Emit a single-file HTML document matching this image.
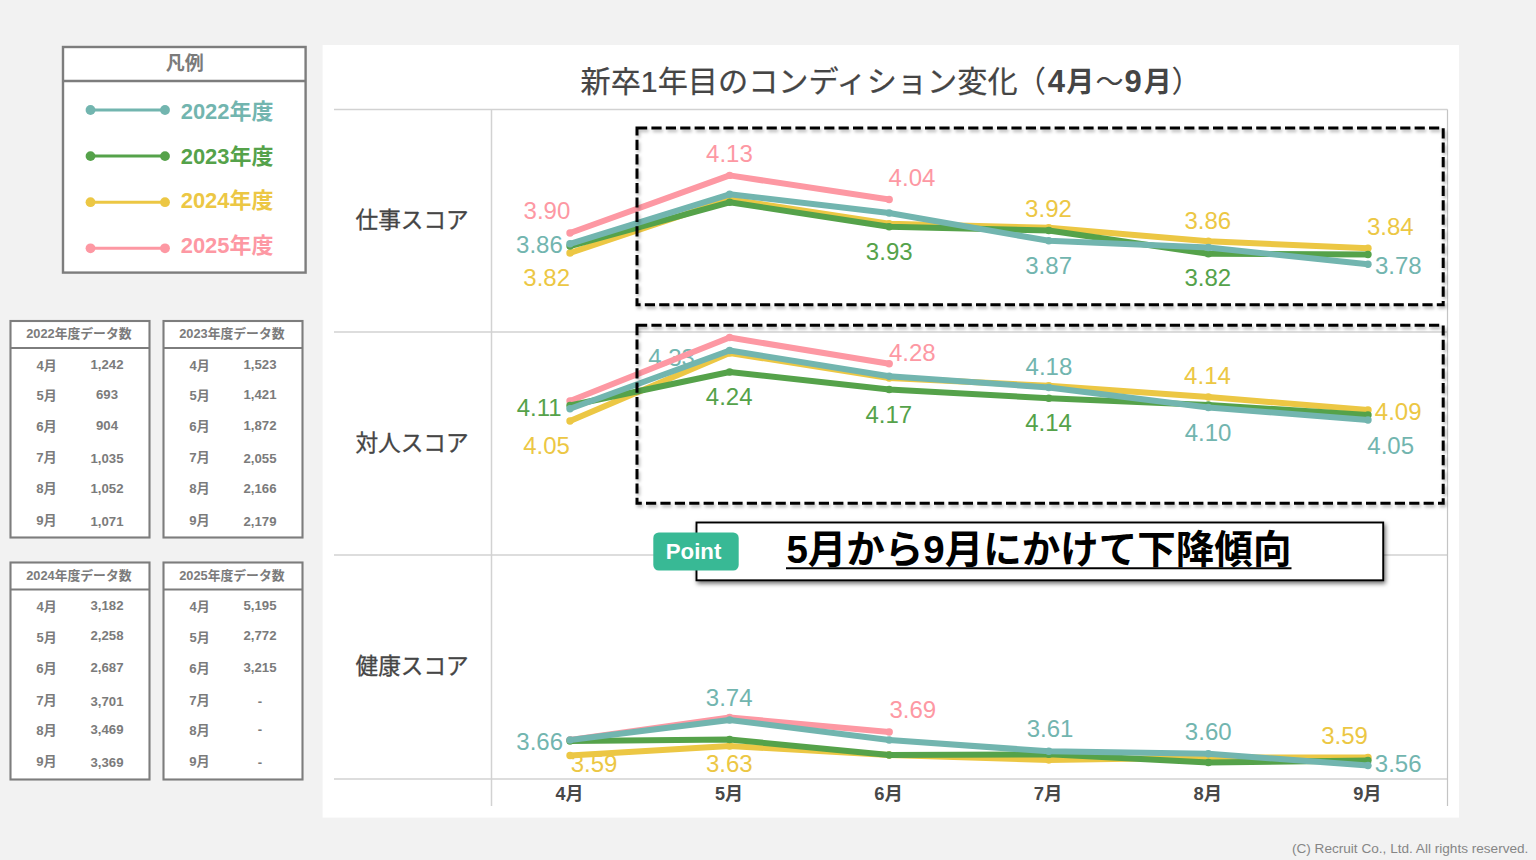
<!DOCTYPE html>
<html lang="ja"><head><meta charset="utf-8"><title>新卒1年目のコンディション変化</title>
<style>
html,body{margin:0;padding:0;background:#f2f2f2}
body{width:1536px;height:860px;position:relative;overflow:hidden;font-family:"Liberation Sans",sans-serif}
svg{position:absolute;left:0;top:0;display:block}
svg text{font-family:"Liberation Sans","Noto Sans CJK JP",sans-serif}
.v{position:absolute;white-space:nowrap;line-height:1;font-family:"Liberation Sans",sans-serif}
.h{position:absolute;white-space:nowrap;line-height:1;color:transparent;font-family:"Liberation Sans",sans-serif;overflow:hidden;width:1px;height:1px;opacity:0}
</style></head>
<body>
<svg width="1536" height="860" viewBox="0 0 1536 860">
<defs>
<filter id="soft" x="-2%" y="-2%" width="104%" height="104%"><feGaussianBlur stdDeviation="0.7"/></filter>
<filter id="dsh" x="-5%" y="-10%" width="110%" height="125%"><feDropShadow dx="1.5" dy="2.5" stdDeviation="1.8" flood-color="#000" flood-opacity="0.28"/></filter>
<filter id="csh" x="-5%" y="-20%" width="110%" height="150%"><feDropShadow dx="1.5" dy="2.5" stdDeviation="2.2" flood-color="#000" flood-opacity="0.55"/></filter>
</defs>
<rect x="63" y="47" width="242.6" height="225.6" fill="#fff" stroke="#7d7d7d" stroke-width="2.4"/>
<line x1="63" y1="81" x2="305.6" y2="81" stroke="#7d7d7d" stroke-width="2.4"/>
<text x="165.86" y="69.63" font-size="19" font-weight="bold" fill="#7b7b7b">凡例</text>
<line x1="90.5" y1="110" x2="165" y2="110" stroke="#72b5af" stroke-width="3"/>
<circle cx="90.5" cy="110" r="4.9" fill="#72b5af"/><circle cx="165" cy="110" r="4.9" fill="#72b5af"/>
<text x="180.73" y="119.34" font-size="21.93" font-weight="bold" fill="#72b5af">2022年度</text>
<line x1="90.5" y1="156.1" x2="165" y2="156.1" stroke="#55a24a" stroke-width="3"/>
<circle cx="90.5" cy="156.1" r="4.9" fill="#55a24a"/><circle cx="165" cy="156.1" r="4.9" fill="#55a24a"/>
<text x="180.73" y="163.74" font-size="21.93" font-weight="bold" fill="#55a24a">2023年度</text>
<line x1="90.5" y1="202.2" x2="165" y2="202.2" stroke="#ecc744" stroke-width="3"/>
<circle cx="90.5" cy="202.2" r="4.9" fill="#ecc744"/><circle cx="165" cy="202.2" r="4.9" fill="#ecc744"/>
<text x="180.73" y="208.44" font-size="21.93" font-weight="bold" fill="#ecc744">2024年度</text>
<line x1="90.5" y1="248.3" x2="165" y2="248.3" stroke="#fd98a3" stroke-width="3"/>
<circle cx="90.5" cy="248.3" r="4.9" fill="#fd98a3"/><circle cx="165" cy="248.3" r="4.9" fill="#fd98a3"/>
<text x="180.73" y="252.84" font-size="21.93" font-weight="bold" fill="#fd98a3">2025年度</text>
<rect x="10.5" y="321" width="139" height="216.5" fill="#fff" stroke="#7d7d7d" stroke-width="2.1"/>
<line x1="10.5" y1="348" x2="149.5" y2="348" stroke="#7d7d7d" stroke-width="2.1"/>
<text x="26.15" y="338.27" font-size="12.82" font-weight="bold" fill="#7b7b7b">2022年度データ数</text>
<text x="36.53" y="369.62" font-size="12.98" font-weight="bold" fill="#7b7b7b">4月</text>
<text x="36.46" y="400.14" font-size="13.02" font-weight="bold" fill="#7b7b7b">5月</text>
<text x="36.14" y="431.22" font-size="13.25" font-weight="bold" fill="#7b7b7b">6月</text>
<text x="36.14" y="462.22" font-size="13.25" font-weight="bold" fill="#7b7b7b">7月</text>
<text x="36.18" y="492.71" font-size="13.22" font-weight="bold" fill="#7b7b7b">8月</text>
<text x="36.27" y="524.68" font-size="13.16" font-weight="bold" fill="#7b7b7b">9月</text>
<rect x="163.5" y="321" width="139" height="216.5" fill="#fff" stroke="#7d7d7d" stroke-width="2.1"/>
<line x1="163.5" y1="348" x2="302.5" y2="348" stroke="#7d7d7d" stroke-width="2.1"/>
<text x="179.15" y="338.27" font-size="12.82" font-weight="bold" fill="#7b7b7b">2023年度データ数</text>
<text x="189.53" y="369.62" font-size="12.98" font-weight="bold" fill="#7b7b7b">4月</text>
<text x="189.46" y="400.14" font-size="13.02" font-weight="bold" fill="#7b7b7b">5月</text>
<text x="189.14" y="431.22" font-size="13.25" font-weight="bold" fill="#7b7b7b">6月</text>
<text x="189.14" y="462.22" font-size="13.25" font-weight="bold" fill="#7b7b7b">7月</text>
<text x="189.18" y="492.71" font-size="13.22" font-weight="bold" fill="#7b7b7b">8月</text>
<text x="189.27" y="524.68" font-size="13.16" font-weight="bold" fill="#7b7b7b">9月</text>
<rect x="10.5" y="562.5" width="139" height="217" fill="#fff" stroke="#7d7d7d" stroke-width="2.1"/>
<line x1="10.5" y1="589.5" x2="149.5" y2="589.5" stroke="#7d7d7d" stroke-width="2.1"/>
<text x="26.15" y="579.77" font-size="12.82" font-weight="bold" fill="#7b7b7b">2024年度データ数</text>
<text x="36.53" y="611.12" font-size="12.98" font-weight="bold" fill="#7b7b7b">4月</text>
<text x="36.46" y="641.64" font-size="13.02" font-weight="bold" fill="#7b7b7b">5月</text>
<text x="36.14" y="672.72" font-size="13.25" font-weight="bold" fill="#7b7b7b">6月</text>
<text x="36.14" y="704.72" font-size="13.25" font-weight="bold" fill="#7b7b7b">7月</text>
<text x="36.18" y="735.21" font-size="13.22" font-weight="bold" fill="#7b7b7b">8月</text>
<text x="36.27" y="766.18" font-size="13.16" font-weight="bold" fill="#7b7b7b">9月</text>
<rect x="163.5" y="562.5" width="139" height="217" fill="#fff" stroke="#7d7d7d" stroke-width="2.1"/>
<line x1="163.5" y1="589.5" x2="302.5" y2="589.5" stroke="#7d7d7d" stroke-width="2.1"/>
<text x="179.15" y="579.77" font-size="12.82" font-weight="bold" fill="#7b7b7b">2025年度データ数</text>
<text x="189.53" y="611.12" font-size="12.98" font-weight="bold" fill="#7b7b7b">4月</text>
<text x="189.46" y="641.64" font-size="13.02" font-weight="bold" fill="#7b7b7b">5月</text>
<text x="189.14" y="672.72" font-size="13.25" font-weight="bold" fill="#7b7b7b">6月</text>
<text x="189.14" y="704.72" font-size="13.25" font-weight="bold" fill="#7b7b7b">7月</text>
<text x="189.18" y="735.21" font-size="13.22" font-weight="bold" fill="#7b7b7b">8月</text>
<text x="189.27" y="766.18" font-size="13.16" font-weight="bold" fill="#7b7b7b">9月</text>
<rect x="322.6" y="45" width="1136.4" height="772.6" fill="#fff" filter="url(#soft)"/>
<line x1="334" y1="109.6" x2="1447.5" y2="109.6" stroke="#d2d2d2" stroke-width="1.5"/>
<line x1="334" y1="332" x2="1447.5" y2="332" stroke="#d2d2d2" stroke-width="1.5"/>
<line x1="334" y1="555" x2="1447.5" y2="555" stroke="#d2d2d2" stroke-width="1.5"/>
<line x1="334" y1="779" x2="1447.5" y2="779" stroke="#d2d2d2" stroke-width="1.5"/>
<line x1="491.5" y1="109.6" x2="491.5" y2="806" stroke="#d2d2d2" stroke-width="1.5"/>
<line x1="1447.5" y1="109.6" x2="1447.5" y2="806" stroke="#c4c4c4" stroke-width="1.2"/>
<text x="580.51" y="91.58" font-size="30" fill="#454545" stroke="#454545" stroke-width="0.24" textLength="437.1" lengthAdjust="spacingAndGlyphs">新卒1年目のコンディション変化</text>
<text x="1016" y="91.58" font-size="30" fill="#454545">（</text>
<text x="1047.7" y="91.58" font-size="31" font-weight="bold" fill="#454545">4</text>
<text x="1066.33" y="91.58" font-size="28" font-weight="bold" fill="#454545">月</text>
<text x="1095.44" y="91.58" font-size="28" fill="#454545">～</text>
<text x="1124.56" y="91.58" font-size="31" font-weight="bold" fill="#454545">9</text>
<text x="1143.63" y="91.58" font-size="28" font-weight="bold" fill="#454545">月</text>
<text x="1171.5" y="91.58" font-size="30" fill="#454545">）</text>
<text x="355.52" y="228.07" font-size="22.64" fill="#454545" stroke="#454545" stroke-width="0.32">仕事スコア</text>
<text x="355.41" y="451.12" font-size="22.66" fill="#454545" stroke="#454545" stroke-width="0.32">対人スコア</text>
<text x="355.62" y="674.05" font-size="22.62" fill="#454545" stroke="#454545" stroke-width="0.32">健康スコア</text>
<text x="555.52" y="800.11" font-size="18.01" font-weight="bold" fill="#484848">4月</text>
<text x="715.03" y="800.14" font-size="18.08" font-weight="bold" fill="#484848">5月</text>
<text x="874.18" y="800.25" font-size="18.39" font-weight="bold" fill="#484848">6月</text>
<text x="1033.78" y="800.25" font-size="18.39" font-weight="bold" fill="#484848">7月</text>
<text x="1193.44" y="800.23" font-size="18.35" font-weight="bold" fill="#484848">8月</text>
<text x="1353.17" y="800.2" font-size="18.26" font-weight="bold" fill="#484848">9月</text>
<text x="523.56" y="218.99" font-size="24" fill="#fd98a3">3.90</text>
<text x="516.05" y="252.58" font-size="24" fill="#72b5af">3.86</text>
<text x="523.31" y="286.08" font-size="24" fill="#ecc744">3.82</text>
<text x="706.06" y="162.18" font-size="24" fill="#fd98a3">4.13</text>
<text x="888.61" y="186.19" font-size="24" fill="#fd98a3">4.04</text>
<text x="865.87" y="259.98" font-size="24" fill="#55a24a">3.93</text>
<text x="1025.11" y="216.68" font-size="24" fill="#ecc744">3.92</text>
<text x="1025.27" y="274.48" font-size="24" fill="#72b5af">3.87</text>
<text x="1184.45" y="229.18" font-size="24" fill="#ecc744">3.86</text>
<text x="1184.51" y="286.18" font-size="24" fill="#55a24a">3.82</text>
<text x="1367.01" y="234.98" font-size="24" fill="#ecc744">3.84</text>
<text x="1374.89" y="273.68" font-size="24" fill="#72b5af">3.78</text>
<text x="516.68" y="416.1" font-size="24" fill="#55a24a">4.11</text>
<text x="523.15" y="454.19" font-size="24" fill="#ecc744">4.05</text>
<text x="648.16" y="366.18" font-size="24" fill="#72b5af">4.33</text>
<text x="705.81" y="404.68" font-size="24" fill="#55a24a">4.24</text>
<text x="888.98" y="360.68" font-size="24" fill="#fd98a3">4.28</text>
<text x="865.47" y="422.9" font-size="24" fill="#55a24a">4.17</text>
<text x="1025.58" y="374.98" font-size="24" fill="#72b5af">4.18</text>
<text x="1025.21" y="430.6" font-size="24" fill="#55a24a">4.14</text>
<text x="1184.11" y="384.4" font-size="24" fill="#ecc744">4.14</text>
<text x="1184.75" y="441.19" font-size="24" fill="#72b5af">4.10</text>
<text x="1374.8" y="419.99" font-size="24" fill="#ecc744">4.09</text>
<text x="1367.35" y="454.19" font-size="24" fill="#72b5af">4.05</text>
<text x="516.35" y="749.68" font-size="24" fill="#72b5af">3.66</text>
<text x="570.71" y="772.48" font-size="24" fill="#ecc744">3.59</text>
<text x="705.81" y="706.18" font-size="24" fill="#72b5af">3.74</text>
<text x="705.97" y="771.68" font-size="24" fill="#ecc744">3.63</text>
<text x="889.41" y="718.18" font-size="24" fill="#fd98a3">3.69</text>
<text x="1026.69" y="737.48" font-size="24" fill="#72b5af">3.61</text>
<text x="1184.86" y="739.99" font-size="24" fill="#72b5af">3.60</text>
<text x="1321.21" y="744.18" font-size="24" fill="#ecc744">3.59</text>
<text x="1374.85" y="771.68" font-size="24" fill="#72b5af">3.56</text>
<polyline points="570,233 729.6,175.4 889.2,199.5" fill="none" stroke="#fd98a3" stroke-width="6" stroke-linejoin="round" stroke-linecap="round"/>
<circle cx="570" cy="233" r="3.7" fill="#fd98a3"/>
<circle cx="729.6" cy="175.4" r="3.7" fill="#fd98a3"/>
<circle cx="889.2" cy="199.5" r="3.7" fill="#fd98a3"/>
<polyline points="570,253 729.6,199.3 889.2,223.8 1048.8,227.8 1208.4,241.3 1368,248.3" fill="none" stroke="#ecc744" stroke-width="6" stroke-linejoin="round" stroke-linecap="round"/>
<circle cx="570" cy="253" r="3.7" fill="#ecc744"/>
<circle cx="729.6" cy="199.3" r="3.7" fill="#ecc744"/>
<circle cx="889.2" cy="223.8" r="3.7" fill="#ecc744"/>
<circle cx="1048.8" cy="227.8" r="3.7" fill="#ecc744"/>
<circle cx="1208.4" cy="241.3" r="3.7" fill="#ecc744"/>
<circle cx="1368" cy="248.3" r="3.7" fill="#ecc744"/>
<polyline points="570,246 729.6,202.3 889.2,226.8 1048.8,230.5 1208.4,253.8 1368,254.5" fill="none" stroke="#55a24a" stroke-width="6" stroke-linejoin="round" stroke-linecap="round"/>
<circle cx="570" cy="246" r="3.7" fill="#55a24a"/>
<circle cx="729.6" cy="202.3" r="3.7" fill="#55a24a"/>
<circle cx="889.2" cy="226.8" r="3.7" fill="#55a24a"/>
<circle cx="1048.8" cy="230.5" r="3.7" fill="#55a24a"/>
<circle cx="1208.4" cy="253.8" r="3.7" fill="#55a24a"/>
<circle cx="1368" cy="254.5" r="3.7" fill="#55a24a"/>
<polyline points="570,243.8 729.6,194.3 889.2,213 1048.8,240.8 1208.4,247.5 1368,264.3" fill="none" stroke="#72b5af" stroke-width="6" stroke-linejoin="round" stroke-linecap="round"/>
<circle cx="570" cy="243.8" r="3.7" fill="#72b5af"/>
<circle cx="729.6" cy="194.3" r="3.7" fill="#72b5af"/>
<circle cx="889.2" cy="213" r="3.7" fill="#72b5af"/>
<circle cx="1048.8" cy="240.8" r="3.7" fill="#72b5af"/>
<circle cx="1208.4" cy="247.5" r="3.7" fill="#72b5af"/>
<circle cx="1368" cy="264.3" r="3.7" fill="#72b5af"/>
<polyline points="570,401 729.6,337.5 889.2,363.8" fill="none" stroke="#fd98a3" stroke-width="6" stroke-linejoin="round" stroke-linecap="round"/>
<circle cx="570" cy="401" r="3.7" fill="#fd98a3"/>
<circle cx="729.6" cy="337.5" r="3.7" fill="#fd98a3"/>
<circle cx="889.2" cy="363.8" r="3.7" fill="#fd98a3"/>
<polyline points="570,421 729.6,353 889.2,378 1048.8,385.8 1208.4,397 1368,410" fill="none" stroke="#ecc744" stroke-width="6" stroke-linejoin="round" stroke-linecap="round"/>
<circle cx="570" cy="421" r="3.7" fill="#ecc744"/>
<circle cx="729.6" cy="353" r="3.7" fill="#ecc744"/>
<circle cx="889.2" cy="378" r="3.7" fill="#ecc744"/>
<circle cx="1048.8" cy="385.8" r="3.7" fill="#ecc744"/>
<circle cx="1208.4" cy="397" r="3.7" fill="#ecc744"/>
<circle cx="1368" cy="410" r="3.7" fill="#ecc744"/>
<polyline points="570,405.5 729.6,372 889.2,389.5 1048.8,398.3 1208.4,405 1368,415" fill="none" stroke="#55a24a" stroke-width="6" stroke-linejoin="round" stroke-linecap="round"/>
<circle cx="570" cy="405.5" r="3.7" fill="#55a24a"/>
<circle cx="729.6" cy="372" r="3.7" fill="#55a24a"/>
<circle cx="889.2" cy="389.5" r="3.7" fill="#55a24a"/>
<circle cx="1048.8" cy="398.3" r="3.7" fill="#55a24a"/>
<circle cx="1208.4" cy="405" r="3.7" fill="#55a24a"/>
<circle cx="1368" cy="415" r="3.7" fill="#55a24a"/>
<polyline points="570,408.8 729.6,350.5 889.2,376.3 1048.8,387.5 1208.4,407.5 1368,420" fill="none" stroke="#72b5af" stroke-width="6" stroke-linejoin="round" stroke-linecap="round"/>
<circle cx="570" cy="408.8" r="3.7" fill="#72b5af"/>
<circle cx="729.6" cy="350.5" r="3.7" fill="#72b5af"/>
<circle cx="889.2" cy="376.3" r="3.7" fill="#72b5af"/>
<circle cx="1048.8" cy="387.5" r="3.7" fill="#72b5af"/>
<circle cx="1208.4" cy="407.5" r="3.7" fill="#72b5af"/>
<circle cx="1368" cy="420" r="3.7" fill="#72b5af"/>
<polyline points="570,740 729.6,717.5 889.2,732" fill="none" stroke="#fd98a3" stroke-width="6" stroke-linejoin="round" stroke-linecap="round"/>
<circle cx="570" cy="740" r="3.7" fill="#fd98a3"/>
<circle cx="729.6" cy="717.5" r="3.7" fill="#fd98a3"/>
<circle cx="889.2" cy="732" r="3.7" fill="#fd98a3"/>
<polyline points="570,755.5 729.6,746 889.2,755 1048.8,760 1208.4,757.5 1368,757.5" fill="none" stroke="#ecc744" stroke-width="6" stroke-linejoin="round" stroke-linecap="round"/>
<circle cx="570" cy="755.5" r="3.7" fill="#ecc744"/>
<circle cx="729.6" cy="746" r="3.7" fill="#ecc744"/>
<circle cx="889.2" cy="755" r="3.7" fill="#ecc744"/>
<circle cx="1048.8" cy="760" r="3.7" fill="#ecc744"/>
<circle cx="1208.4" cy="757.5" r="3.7" fill="#ecc744"/>
<circle cx="1368" cy="757.5" r="3.7" fill="#ecc744"/>
<polyline points="570,741 729.6,739.5 889.2,755 1048.8,754.3 1208.4,762.5 1368,760.5" fill="none" stroke="#55a24a" stroke-width="6" stroke-linejoin="round" stroke-linecap="round"/>
<circle cx="570" cy="741" r="3.7" fill="#55a24a"/>
<circle cx="729.6" cy="739.5" r="3.7" fill="#55a24a"/>
<circle cx="889.2" cy="755" r="3.7" fill="#55a24a"/>
<circle cx="1048.8" cy="754.3" r="3.7" fill="#55a24a"/>
<circle cx="1208.4" cy="762.5" r="3.7" fill="#55a24a"/>
<circle cx="1368" cy="760.5" r="3.7" fill="#55a24a"/>
<polyline points="570,740 729.6,720 889.2,740 1048.8,751.3 1208.4,753.8 1368,765.5" fill="none" stroke="#72b5af" stroke-width="6" stroke-linejoin="round" stroke-linecap="round"/>
<circle cx="570" cy="740" r="3.7" fill="#72b5af"/>
<circle cx="729.6" cy="720" r="3.7" fill="#72b5af"/>
<circle cx="889.2" cy="740" r="3.7" fill="#72b5af"/>
<circle cx="1048.8" cy="751.3" r="3.7" fill="#72b5af"/>
<circle cx="1208.4" cy="753.8" r="3.7" fill="#72b5af"/>
<circle cx="1368" cy="765.5" r="3.7" fill="#72b5af"/>
<rect x="637" y="128" width="806.2" height="176.8" fill="none" stroke="#000" stroke-width="3" stroke-dasharray="10.2 4.2" filter="url(#dsh)"/>
<rect x="637" y="325.2" width="806.2" height="178" fill="none" stroke="#000" stroke-width="3" stroke-dasharray="10.2 4.2" filter="url(#dsh)"/>
<rect x="696.5" y="522.5" width="686.7" height="57.8" fill="#fff" stroke="#000" stroke-width="1.9" filter="url(#csh)"/>
<text x="786.41" y="562.6" font-size="38.3" font-weight="bold" fill="#000" textLength="505" lengthAdjust="spacingAndGlyphs">5月から9月にかけて下降傾向</text>
<line x1="786" y1="568.3" x2="1291.5" y2="568.3" stroke="#000" stroke-width="2"/>
<rect x="653.3" y="532.5" width="85.4" height="38" rx="5.5" fill="#38b995"/>
<text x="665.78" y="558.5" font-size="22.24" font-weight="bold" fill="#fff">Point</text>
</svg>
<div class="v" style="font-size:13.2px;color:#7b7b7b;font-weight:bold;left:107px;top:357.5px;transform:translateX(-50%);">1,242</div>
<div class="v" style="font-size:13.2px;color:#7b7b7b;font-weight:bold;left:107px;top:387.5px;transform:translateX(-50%);">693</div>
<div class="v" style="font-size:13.2px;color:#7b7b7b;font-weight:bold;left:107px;top:419px;transform:translateX(-50%);">904</div>
<div class="v" style="font-size:13.2px;color:#7b7b7b;font-weight:bold;left:107px;top:451.5px;transform:translateX(-50%);">1,035</div>
<div class="v" style="font-size:13.2px;color:#7b7b7b;font-weight:bold;left:107px;top:481.5px;transform:translateX(-50%);">1,052</div>
<div class="v" style="font-size:13.2px;color:#7b7b7b;font-weight:bold;left:107px;top:514.5px;transform:translateX(-50%);">1,071</div>
<div class="v" style="font-size:13.2px;color:#7b7b7b;font-weight:bold;left:260px;top:357.5px;transform:translateX(-50%);">1,523</div>
<div class="v" style="font-size:13.2px;color:#7b7b7b;font-weight:bold;left:260px;top:387.5px;transform:translateX(-50%);">1,421</div>
<div class="v" style="font-size:13.2px;color:#7b7b7b;font-weight:bold;left:260px;top:419px;transform:translateX(-50%);">1,872</div>
<div class="v" style="font-size:13.2px;color:#7b7b7b;font-weight:bold;left:260px;top:451.5px;transform:translateX(-50%);">2,055</div>
<div class="v" style="font-size:13.2px;color:#7b7b7b;font-weight:bold;left:260px;top:481.5px;transform:translateX(-50%);">2,166</div>
<div class="v" style="font-size:13.2px;color:#7b7b7b;font-weight:bold;left:260px;top:514.5px;transform:translateX(-50%);">2,179</div>
<div class="v" style="font-size:13.2px;color:#7b7b7b;font-weight:bold;left:107px;top:599px;transform:translateX(-50%);">3,182</div>
<div class="v" style="font-size:13.2px;color:#7b7b7b;font-weight:bold;left:107px;top:629px;transform:translateX(-50%);">2,258</div>
<div class="v" style="font-size:13.2px;color:#7b7b7b;font-weight:bold;left:107px;top:660.5px;transform:translateX(-50%);">2,687</div>
<div class="v" style="font-size:13.2px;color:#7b7b7b;font-weight:bold;left:107px;top:694.5px;transform:translateX(-50%);">3,701</div>
<div class="v" style="font-size:13.2px;color:#7b7b7b;font-weight:bold;left:107px;top:723px;transform:translateX(-50%);">3,469</div>
<div class="v" style="font-size:13.2px;color:#7b7b7b;font-weight:bold;left:107px;top:756px;transform:translateX(-50%);">3,369</div>
<div class="v" style="font-size:13.2px;color:#7b7b7b;font-weight:bold;left:260px;top:599px;transform:translateX(-50%);">5,195</div>
<div class="v" style="font-size:13.2px;color:#7b7b7b;font-weight:bold;left:260px;top:629px;transform:translateX(-50%);">2,772</div>
<div class="v" style="font-size:13.2px;color:#7b7b7b;font-weight:bold;left:260px;top:660.5px;transform:translateX(-50%);">3,215</div>
<div class="v" style="font-size:13.2px;color:#7b7b7b;font-weight:bold;left:260px;top:694.5px;transform:translateX(-50%);">-</div>
<div class="v" style="font-size:13.2px;color:#7b7b7b;font-weight:bold;left:260px;top:723px;transform:translateX(-50%);">-</div>
<div class="v" style="font-size:13.2px;color:#7b7b7b;font-weight:bold;left:260px;top:756px;transform:translateX(-50%);">-</div>
<div class="v" style="font-size:13.6px;color:#868686;right:7.6px;top:842.29px;">(C) Recruit Co., Ltd. All rights reserved.</div>
<span class="h" style="left:166.28px;top:53.52px;font-size:19px">凡例</span>
<span class="h" style="left:181.5px;top:100.62px;font-size:21.93px">2022年度</span>
<span class="h" style="left:181.5px;top:145.02px;font-size:21.93px">2023年度</span>
<span class="h" style="left:181.5px;top:189.72px;font-size:21.93px">2024年度</span>
<span class="h" style="left:181.5px;top:234.12px;font-size:21.93px">2025年度</span>
<span class="h" style="left:26.6px;top:327.13px;font-size:12.82px">2022年度データ数</span>
<span class="h" style="left:36.8px;top:359.21px;font-size:12.98px">4月</span>
<span class="h" style="left:36.8px;top:389.69px;font-size:13.02px">5月</span>
<span class="h" style="left:36.8px;top:420.59px;font-size:13.25px">6月</span>
<span class="h" style="left:36.8px;top:451.59px;font-size:13.25px">7月</span>
<span class="h" style="left:36.8px;top:482.1px;font-size:13.22px">8月</span>
<span class="h" style="left:36.8px;top:514.13px;font-size:13.16px">9月</span>
<span class="h" style="left:179.6px;top:327.13px;font-size:12.82px">2023年度データ数</span>
<span class="h" style="left:189.8px;top:359.21px;font-size:12.98px">4月</span>
<span class="h" style="left:189.8px;top:389.69px;font-size:13.02px">5月</span>
<span class="h" style="left:189.8px;top:420.59px;font-size:13.25px">6月</span>
<span class="h" style="left:189.8px;top:451.59px;font-size:13.25px">7月</span>
<span class="h" style="left:189.8px;top:482.1px;font-size:13.22px">8月</span>
<span class="h" style="left:189.8px;top:514.13px;font-size:13.16px">9月</span>
<span class="h" style="left:26.6px;top:568.63px;font-size:12.82px">2024年度データ数</span>
<span class="h" style="left:36.8px;top:600.71px;font-size:12.98px">4月</span>
<span class="h" style="left:36.8px;top:631.19px;font-size:13.02px">5月</span>
<span class="h" style="left:36.8px;top:662.09px;font-size:13.25px">6月</span>
<span class="h" style="left:36.8px;top:694.09px;font-size:13.25px">7月</span>
<span class="h" style="left:36.8px;top:724.6px;font-size:13.22px">8月</span>
<span class="h" style="left:36.8px;top:755.63px;font-size:13.16px">9月</span>
<span class="h" style="left:179.6px;top:568.63px;font-size:12.82px">2025年度データ数</span>
<span class="h" style="left:189.8px;top:600.71px;font-size:12.98px">4月</span>
<span class="h" style="left:189.8px;top:631.19px;font-size:13.02px">5月</span>
<span class="h" style="left:189.8px;top:662.09px;font-size:13.25px">6月</span>
<span class="h" style="left:189.8px;top:694.09px;font-size:13.25px">7月</span>
<span class="h" style="left:189.8px;top:724.6px;font-size:13.22px">8月</span>
<span class="h" style="left:189.8px;top:755.63px;font-size:13.16px">9月</span>
<span class="h" style="left:581.2px;top:65.78px;font-size:30px">新卒1年目のコンディション変化</span>
<span class="h" style="left:1036.6px;top:65.9px;font-size:30px">（</span>
<span class="h" style="left:1048.3px;top:67.5px;font-size:32.5px">4</span>
<span class="h" style="left:1066.9px;top:67.52px;font-size:30px">月</span>
<span class="h" style="left:1096.6px;top:76.13px;font-size:30px">～</span>
<span class="h" style="left:1125.7px;top:67.07px;font-size:32.5px">9</span>
<span class="h" style="left:1144.2px;top:67.52px;font-size:30px">月</span>
<span class="h" style="left:1172.7px;top:65.9px;font-size:30px">）</span>
<span class="h" style="left:356px;top:208.96px;font-size:22.64px">仕事スコア</span>
<span class="h" style="left:356px;top:432px;font-size:22.66px">対人スコア</span>
<span class="h" style="left:356px;top:654.96px;font-size:22.62px">健康スコア</span>
<span class="h" style="left:555.9px;top:785.67px;font-size:18.01px">4月</span>
<span class="h" style="left:715.5px;top:785.64px;font-size:18.08px">5月</span>
<span class="h" style="left:875.1px;top:785.5px;font-size:18.39px">6月</span>
<span class="h" style="left:1034.7px;top:785.5px;font-size:18.39px">7月</span>
<span class="h" style="left:1194.3px;top:785.51px;font-size:18.35px">8月</span>
<span class="h" style="left:1353.9px;top:785.56px;font-size:18.26px">9月</span>
<span class="h" style="left:524.64px;top:201.26px;font-size:24.45px">3.90</span>
<span class="h" style="left:517.13px;top:234.87px;font-size:24.45px">3.86</span>
<span class="h" style="left:524.38px;top:268.37px;font-size:24.45px">3.82</span>
<span class="h" style="left:706.55px;top:144.47px;font-size:24.45px">4.13</span>
<span class="h" style="left:889.1px;top:168.46px;font-size:24.45px">4.04</span>
<span class="h" style="left:866.94px;top:242.27px;font-size:24.45px">3.93</span>
<span class="h" style="left:1026.18px;top:198.97px;font-size:24.45px">3.92</span>
<span class="h" style="left:1026.35px;top:256.77px;font-size:24.45px">3.87</span>
<span class="h" style="left:1185.53px;top:211.47px;font-size:24.45px">3.86</span>
<span class="h" style="left:1185.58px;top:268.47px;font-size:24.45px">3.82</span>
<span class="h" style="left:1368.09px;top:217.27px;font-size:24.45px">3.84</span>
<span class="h" style="left:1375.96px;top:255.97px;font-size:24.45px">3.78</span>
<span class="h" style="left:517.17px;top:398.55px;font-size:24.45px">4.11</span>
<span class="h" style="left:523.64px;top:436.46px;font-size:24.45px">4.05</span>
<span class="h" style="left:648.65px;top:348.47px;font-size:24.45px">4.33</span>
<span class="h" style="left:706.3px;top:386.97px;font-size:24.45px">4.24</span>
<span class="h" style="left:889.47px;top:342.97px;font-size:24.45px">4.28</span>
<span class="h" style="left:865.96px;top:405.35px;font-size:24.45px">4.17</span>
<span class="h" style="left:1026.07px;top:357.27px;font-size:24.45px">4.18</span>
<span class="h" style="left:1025.7px;top:413.05px;font-size:24.45px">4.14</span>
<span class="h" style="left:1184.6px;top:366.85px;font-size:24.45px">4.14</span>
<span class="h" style="left:1185.25px;top:423.46px;font-size:24.45px">4.10</span>
<span class="h" style="left:1375.29px;top:402.26px;font-size:24.45px">4.09</span>
<span class="h" style="left:1367.84px;top:436.46px;font-size:24.45px">4.05</span>
<span class="h" style="left:517.43px;top:731.97px;font-size:24.45px">3.66</span>
<span class="h" style="left:571.78px;top:754.77px;font-size:24.45px">3.59</span>
<span class="h" style="left:706.89px;top:688.47px;font-size:24.45px">3.74</span>
<span class="h" style="left:707.04px;top:753.97px;font-size:24.45px">3.63</span>
<span class="h" style="left:890.48px;top:700.47px;font-size:24.45px">3.69</span>
<span class="h" style="left:1027.76px;top:719.77px;font-size:24.45px">3.61</span>
<span class="h" style="left:1185.94px;top:722.26px;font-size:24.45px">3.60</span>
<span class="h" style="left:1322.28px;top:726.47px;font-size:24.45px">3.59</span>
<span class="h" style="left:1375.93px;top:753.97px;font-size:24.45px">3.56</span>
<span class="h" style="left:787.6px;top:530.16px;font-size:38.3px">5月から9月にかけて下降傾向</span>
<span class="h" style="left:667.8px;top:540.47px;font-size:22.24px">Point</span>
</body></html>
